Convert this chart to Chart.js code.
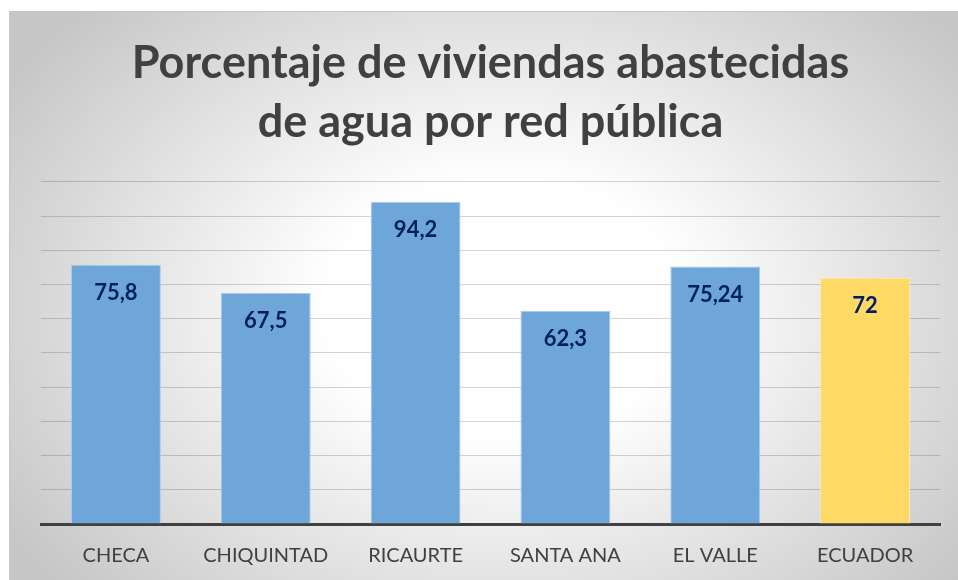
<!DOCTYPE html>
<html>
<head>
<meta charset="utf-8">
<script src="https://cdn.jsdelivr.net/npm/chart.js@4/dist/chart.umd.min.js"></script>
<style>
  html, body { margin: 0; padding: 0; background: #fff; }
  #box {
    position: absolute; left: 9px; top: 11px; width: 949px; height: 569px;
    border-top: 1px solid #c8c8c8; border-left: 1px solid #c8c8c8;
    box-sizing: border-box;
    background: radial-gradient(ellipse 62% 75% at 52% 52%, #ffffff 0%, #ffffff 30%, #c6c6c6 100%);
  }
</style>
</head>
<body>
<div id="box"><canvas id="chart"></canvas></div>
<script>
// datos
var categorias = ['CHECA', 'CHIQUINTAD', 'RICAURTE', 'SANTA ANA', 'EL VALLE', 'ECUADOR'];
var valores = [75.8, 67.5, 94.2, 62.3, 75.24, 72];
var colores = ['#6fa6da', '#6fa6da', '#6fa6da', '#6fa6da', '#6fa6da', '#ffd966'];
var bordes = ['#a9cbeb', '#a9cbeb', '#a9cbeb', '#a9cbeb', '#a9cbeb', '#ffe9a6'];
var titulo = ['Porcentaje de viviendas abastecidas', 'de agua por red pública'];

/* etiquetas dentro de la barra */
var etiquetas = {
    id: 'etiquetas',
    afterDatasetsDraw: function(chart) {
        var ctx = chart.ctx;
        var meta = chart.getDatasetMeta(0);
        ctx.save();
        ctx.font = 'bold 22px Lato';
        ctx.fillStyle = '#002060';
        ctx.textAlign = 'center';
        ctx.textBaseline = 'middle';
        meta.data.forEach(function(bar, i) {
            ctx.fillText(String(valores[i]).replace('.', ','), bar.x, bar.y + 28);
        });
        ctx.restore();
    }
};

var ctx = document.getElementById('chart').getContext('2d');
var chart = new Chart(ctx, {
    type: 'bar',
    data: {
        labels: categorias,
        datasets: [{
            data: valores,
            backgroundColor: colores,
            borderColor: bordes,
            borderWidth: 1,
            barPercentage: 0.6,
            categoryPercentage: 1
        }]
    },
    options: {
        responsive: true,
        maintainAspectRatio: false,
        animation: false,
        layout: { padding: { left: 31, right: 18, top: 0, bottom: 0 } },
        plugins: {
            legend: { display: false },
            tooltip: { enabled: false },
            title: {
                display: true,
                text: titulo,
                color: '#404040',
                font: { family: 'Lato', size: 45, weight: 'bold', lineHeight: 1.31 },
                padding: { top: 22, bottom: 30 }
            }
        },
        scales: {
            x: {
                grid: { display: false, drawTicks: false },
                border: { display: true, color: '#404040', width: 3 },
                ticks: { color: '#404040', font: { family: 'Lato', size: 20 }, padding: 20 },
                afterFit: function(s) { s.height = 56; }
            },
            y: {
                min: 0, max: 100,
                ticks: { display: false, stepSize: 10 },
                grid: { color: 'rgba(0,0,0,0.17)', lineWidth: 1, drawTicks: false },
                border: { display: false },
                afterFit: function(s) { s.width = 0; }
            }
        }
    },
    plugins: [etiquetas]
});
</script>
</body>
</html>
